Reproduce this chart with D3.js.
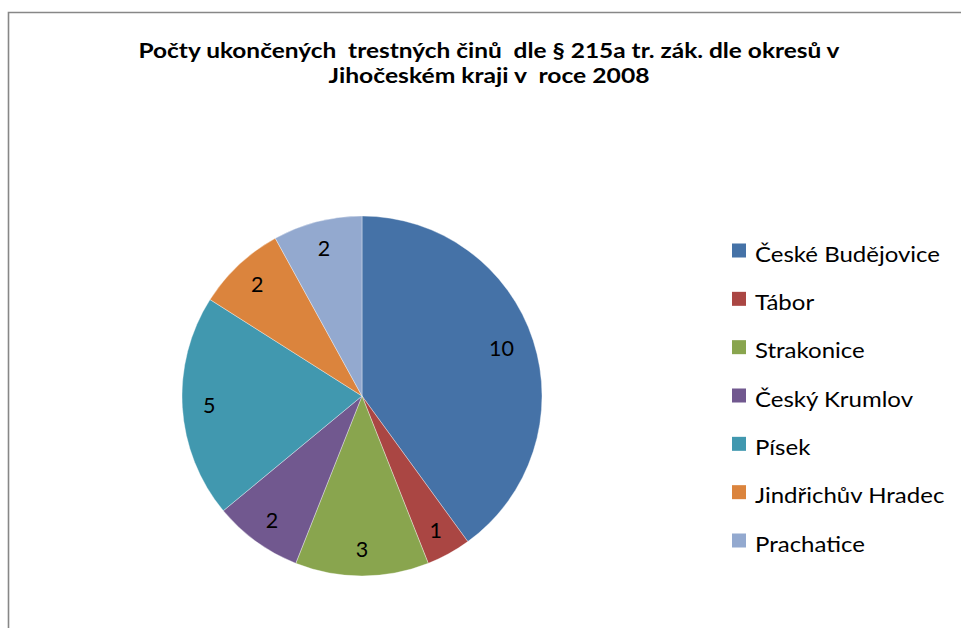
<!DOCTYPE html>
<html>
<head>
<meta charset="utf-8">
<script src="https://cdn.jsdelivr.net/npm/d3@7"></script>
<style>
  html, body { margin: 0; padding: 0; background: #ffffff; }
  svg { display: block; }
  text { font-family: Lato, "Open Sans", "DejaVu Sans", sans-serif; fill: #000; }
</style>
</head>
<body>
<svg id="chart" width="961" height="628"></svg>
<script>
// ---- data ----
const categories = ["České Budějovice", "Tábor", "Strakonice", "Český Krumlov", "Písek", "Jindřichův Hradec", "Prachatice"];
const values = [10, 1, 3, 2, 5, 2, 2];
const colors = ["#4572A7", "#AA4643", "#89A54E", "#71588F", "#4198AF", "#DB843D", "#93A9CF"];
const titleLines = ["Počty ukončených  trestných činů  dle § 215a tr. zák. dle okresů v", "Jihočeském kraji v  roce 2008"];

// ---- layout ----
const W = 961, H = 628;
const svg = d3.select("#chart");
svg.append("rect").attr("width", W).attr("height", H).attr("fill", "#fff");

// chart frame (left and top edges visible)
svg.append("path")
  .attr("d", `M8.5,${H} L8.5,12.5 L${W},12.5`)
  .attr("fill", "none").attr("stroke", "#878787").attr("stroke-width", 1.6);

function squeeze(sel, ratio) {
  sel.each(function () {
    const n = this.getComputedTextLength();
    d3.select(this).attr("textLength", n * ratio).attr("lengthAdjust", "spacingAndGlyphs");
  });
}
function fitWidth(sel, w) {
  sel.attr("textLength", w).attr("lengthAdjust", "spacingAndGlyphs");
}

// title
const titleBaselines = [58, 83];
const titleWidths = [701, 321];
titleLines.forEach((t, i) => {
  const tx = svg.append("text")
    .attr("x", 489).attr("y", titleBaselines[i])
    .attr("text-anchor", "middle")
    .style("white-space", "pre")
    .attr("font-size", 20.5).attr("font-weight", "bold")
    .text(t);
  fitWidth(tx, titleWidths[i]);
});

// pie
const cx = 362, cy = 396, R = 180;
const pie = d3.pie().sort(null).value(d => d).startAngle(0).endAngle(2 * Math.PI);
const arcs = pie(values);
const arc = d3.arc().innerRadius(0).outerRadius(R);
const labelArc = d3.arc().innerRadius(R * 0.85).outerRadius(R * 0.85);

const g = svg.append("g").attr("transform", `translate(${cx},${cy})`);
g.selectAll("path.slice").data(arcs).enter().append("path")
  .attr("class", "slice")
  .attr("d", arc)
  .attr("fill", (d, i) => colors[i])
  .attr("stroke", "rgba(255,255,255,0.6)")
  .attr("stroke-width", 0.6);

const lbl = g.selectAll("text.lbl").data(arcs).enter().append("text")
  .attr("class", "lbl")
  .attr("x", d => labelArc.centroid(d)[0] - (d.index === 0 ? 6 : 0))
  .attr("y", d => labelArc.centroid(d)[1])
  .attr("dy", "0.36em")
  .attr("text-anchor", "middle")
  .attr("font-size", 21.5)
  .text(d => d.data);

// legend
const legendY = d3.scalePoint().domain(categories).range([250.5, 540.5]);
const lg = svg.append("g");
const rows = lg.selectAll("g.row").data(categories).enter().append("g")
  .attr("class", "row")
  .attr("transform", d => `translate(732,${legendY(d)})`);
rows.append("rect")
  .attr("x", 0).attr("y", -7).attr("width", 14).attr("height", 14)
  .attr("fill", (d, i) => colors[i]);
const lt = rows.append("text")
  .attr("x", 23).attr("y", 11)
  .attr("font-size", 22)
  .text(d => d);
const natural = lt.nodes()[0].getComputedTextLength();
squeeze(lt, 185 / natural);
</script>
</body>
</html>
